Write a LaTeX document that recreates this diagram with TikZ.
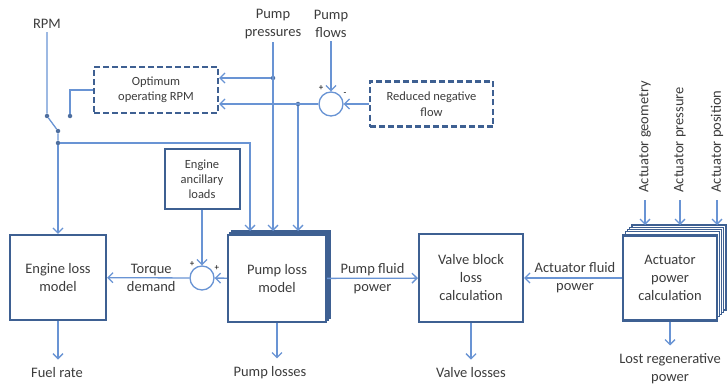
\documentclass[tikz,border=0pt]{standalone}
\usepackage{fontspec}
\setmainfont{Carlito}
\usetikzlibrary{arrows.meta,positioning,calc}

\definecolor{linkblue}{RGB}{105,148,212}
\definecolor{boxblue}{RGB}{62,96,146}
\definecolor{txtgray}{RGB}{60,60,60}

\begin{document}
\begin{tikzpicture}[x=1pt,y=-1pt,>={Straight Barb[length=5pt,width=10pt]},font=\fontsize{14.5}{18}\selectfont,text=txtgray]
\tikzstyle{blk}=[draw=boxblue,line width=2.2pt,fill=white,align=center,inner sep=2pt]
\tikzstyle{ghost}=[draw=boxblue,line width=1.4pt,fill=white]
\tikzstyle{dbox}=[draw=boxblue,line width=2.2pt,dash pattern=on 6pt off 3pt,align=center,font=\fontsize{12.5}{15.5}\selectfont]
\tikzstyle{link}=[draw=linkblue,line width=1.3pt]
\tikzstyle{sum}=[circle,draw=linkblue,line width=1.3pt,fill=white,minimum size=24pt,inner sep=0pt]
\tikzstyle{dot}=[circle,fill=linkblue!75!black,minimum size=4.5pt,inner sep=0pt]
\tikzstyle{sgn}=[font=\fontsize{9}{9}\selectfont,text=black,inner sep=0pt]
\tikzstyle{lbl}=[outer ysep=5pt]
\useasboundingbox (0,0) rectangle (727,385);

% main blocks
\node[blk,minimum width=96pt,minimum height=85pt] (engine) at (58,277.5) {Engine loss\\model};
\foreach \d in {4,2}
  \draw[ghost] ({228+\d},{235-\d}) rectangle ({326+\d},{322-\d});
\node[blk,minimum width=98pt,minimum height=87pt] (pump) at (277,278.5) {Pump loss\\model};
\coordinate (ptop) at (277,231);
\node[blk,minimum width=104pt,minimum height=88pt] (valve) at (471,278) {Valve block\\loss\\calculation};
\foreach \d in {9,6.75,4.5,2.25}
  \draw[ghost] ({623+\d},{234-\d}) rectangle ({717+\d},{319-\d});
\node[blk,minimum width=94pt,minimum height=85pt] (actuator) at (670,278) {Actuator\\power\\calculation};
\coordinate (atop) at (670,225);
\node[blk,line width=2pt,minimum width=75pt,minimum height=60pt,font=\fontsize{12.5}{15}\selectfont] (ancil) at (202,179) {Engine\\ancillary\\loads};

% dashed blocks
\node[dbox,minimum width=124pt,minimum height=46pt] (optrpm) at (156,90) {Optimum\\operating RPM};
\node[dbox,minimum width=123pt,minimum height=45pt] (redneg) at (431.5,104) {Reduced negative\\flow};

% summing junctions
\node[sum] (sumT) at (202,278) {};
\node[sum] (sumF) at (331,104) {};
\node[sgn] (pT1) at ([xshift=-1pt,yshift=5pt]sumT.north west) {+};
\node[sgn] (pT2) at ([xshift=6pt,yshift=1pt]sumT.north east) {+};
\node[sgn] (pF1) at ([xshift=-1pt,yshift=7pt]sumF.north west) {+};
\node[sgn] (mF1) at ([xshift=5pt,yshift=1pt]sumF.north east) {-};

% signal labels
\node (rpm) at (47,24) {RPM};
\node[align=center] (ppres) at (273,24) {Pump\\pressures};
\node[align=center] (pflow) at (331,24) {Pump\\flows};
\node[rotate=90,anchor=west] (ageo) at (645,196) {Actuator geometry};
\node[rotate=90,anchor=west] (apres) at (680,196) {Actuator pressure};
\node[rotate=90,anchor=west] (apos) at (717,196) {Actuator position};
\node[lbl] (fuel) at (57,373) {Fuel rate};
\node[lbl] (plosses) at (270,373) {Pump losses};
\node[lbl] (vlosses) at (471,373) {Valve losses};
\node[lbl,align=center] (lostregen) at (670,369) {Lost regenerative\\power};

% switch and junction dots
\node[dot] (sw1) at (47,116) {};
\node[dot] (sw2) at (58,131) {};
\node[dot] (sw0) at (70,116) {};
\node[dot] (jn) at (58,143) {};
\node[dot] (jp) at (273,78) {};
\node[dot] (jf) at (298,104) {};

% RPM path
\draw[link] (rpm) -- (sw1) -- (sw2) -- (jn);
\draw[link] (optrpm.west) -| (sw0);
\draw[link,->] (jn) -- (jn |- engine.north);
\draw[link,->] (jn) -| ([xshift=-27pt]ptop);

% pump inputs
\draw[link,->] (ppres) -- (ppres |- ptop);
\draw[link,->] (jp) -- (jp -| optrpm.east);
\draw[link,->] (pflow) -- (sumF);
\draw[link,->] (redneg) -- (sumF);
\draw[link,->] (sumF) -- (sumF -| optrpm.east);
\draw[link,->] (jf) -- (jf |- ptop);

% torque and power flow
\draw[link,->] (ancil) -- (sumT);
\draw[link,->] (pump) -- (sumT);
\draw[link,->] (sumT) -- node[align=center,xshift=3pt]{Torque\\demand} (engine);
\draw[link,->] (pump) -- node[align=center]{Pump fluid\\power} (valve);
\draw[link,->] (actuator) -- node[align=center,xshift=2pt]{Actuator fluid\\power} (valve);

% actuator inputs
\draw[link,->] ([yshift=-4pt]ageo.west) -- (ageo.west |- atop);
\draw[link,->] ([yshift=-4pt]apres.west) -- (apres.west |- atop);
\draw[link,->] ([yshift=-4pt]apos.west) -- (apos.west |- atop);

% outputs
\draw[link,->] (engine) -- (engine |- fuel.north);
\draw[link,->] (pump) -- (pump |- plosses.north);
\draw[link,->] (valve) -- (valve |- vlosses.north);
\draw[link,->] (actuator) -- (actuator |- lostregen.north);
\end{tikzpicture}
\end{document}
